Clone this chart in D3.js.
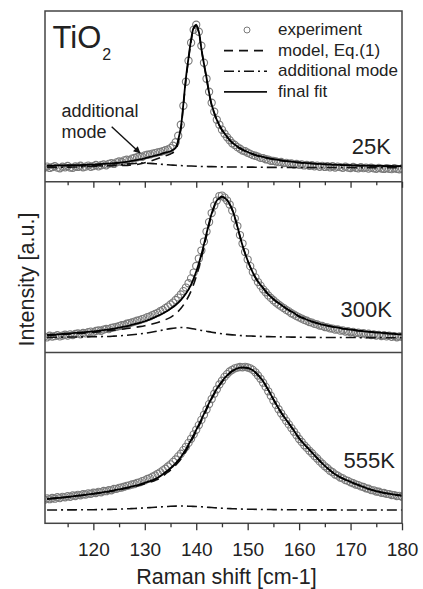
<!DOCTYPE html>
<html>
<head>
<meta charset="utf-8">
<script src="https://cdn.jsdelivr.net/npm/d3@7"></script>
<style>
  html, body { margin: 0; padding: 0; background: #fff; }
  svg { display: block; font-family: "Liberation Sans", Arial, sans-serif; }
</style>
</head>
<body>
<div id="container"></div>
<script>
// Raman shift grids (cm-1)
const ramanExp = d3.range(110.5, 180.01, 0.5);
const ramanCoarse = d3.range(111, 181);
const ramanFine = [111,112,113,114,115,116,117,118,119,120,121,122,123,124,125,126,127,128,129,130,
  131,132,133,134,135,136,136.5,137,137.5,138,138.5,139,139.5,140,140.5,141,141.5,142,142.5,143,143.5,144,
  145,146,147,148,149,150,151,152,153,154,155,156,157,158,159,160,161,162,163,164,165,166,167,168,169,170,
  171,172,173,174,175,176,177,178,179,180];

const majorTicks = [120, 130, 140, 150, 160, 170, 180];
const minorTicks = [115, 125, 135, 145, 155, 165, 175];
const temperatures = ["25K", "300K", "555K"];
const legendItems = ["experiment", "model, Eq.(1)", "additional mode", "final fit"];

// 25K
const exp25 = [14.0,15.2,13.8,14.6,15.5,14.1,13.5,15.0,14.4,15.8,
  14.2,13.9,15.3,14.8,16.0,14.5,15.1,16.2,15.0,15.7,
  16.8,15.4,16.5,17.3,16.4,17.9,18.6,17.8,19.4,20.3,
  19.8,21.4,22.0,21.6,23.2,23.8,24.5,25.1,25.0,26.4,
  27.0,27.3,28.1,28.6,29.4,29.8,30.7,31.5,32.3,33.6,
  36.0,39.5,46,57,76,100,121,139,152,157,
  150,136,119,103,90,79,70,62,57,52,
  48,44.5,41.5,38.5,36.8,34.6,33.0,31.2,30.5,29.0,
  27.9,26.6,26.0,25.1,23.9,23.6,22.5,22.1,21.0,20.8,
  20.3,19.6,19.8,18.7,18.9,18.0,18.3,17.2,17.8,16.9,
  17.4,16.3,16.8,15.9,16.5,15.4,16.1,15.0,15.9,14.8,
  15.6,14.4,15.5,14.2,15.1,14.6,13.9,15.0,14.1,13.7,
  14.8,13.9,13.4,14.5,13.6,14.2,13.1,14.0,13.4,12.9,
  13.8,13.2,12.8,13.6,13.0,12.6,13.5,12.9,12.5,13.3];
const fit25 = [16.1,16.2,16.3,16.4,16.5,16.6,16.7,16.8,17.0,17.2,
  17.5,17.8,18.1,18.5,19.0,19.6,20.4,21.3,22.3,23.5,
  24.8,26.1,27.5,29.1,30.5,
  34,42,54,78,104,124,142,154,157,150,133,118,104,89,77,69,62,
  52,45,39.3,35.3,32.3,29.8,27.8,26.1,24.8,23.6,22.6,21.8,21.0,20.4,19.8,19.3,18.8,18.5,
  18.1,17.8,17.5,17.3,17.0,16.8,16.6,16.5,16.3,16.2,16.1,16.0,15.9,15.8,15.7,15.7,15.6,15.6];
const model25 = [15.9,15.9,16.0,16.0,16.0,16.0,16.0,15.9,15.9,15.9,
  16.0,16.0,16.0,16.0,16.1,16.3,16.6,17.1,17.8,19.0,
  20.5,22.2,24.0,26.0,27.8,
  31.6,39.8,51.9,76,102.2,122.3,140.4,152.5,156,149.5,132.5,117.3,103.4,88.5,76.5,68.5,61.5,
  51.4,44.4,38.5,34.5,31.8,29.3,27.3,25.7,24.4,23.3,22.3,21.5,20.8,20.2,19.6,19.1,18.7,18.4,
  18.0,17.7,17.4,17.2,16.9,16.7,16.5,16.4,16.2,16.1,16.0,15.9,15.8,15.7,15.6,15.6,15.5,15.5];
const add25 = [14.3,14.4,14.4,14.5,14.6,14.7,14.8,15.0,15.2,15.4,
  15.6,15.9,16.2,16.6,17.0,17.4,17.9,18.3,18.6,18.6,
  18.4,18.0,17.6,17.2,16.8,16.5,16.2,15.9,15.7,15.5,
  15.3,15.2,15.1,15.0,14.9,14.8,14.8,14.7,14.7,14.6,
  14.6,14.5,14.5,14.4,14.4,14.4,14.3,14.3,14.3,14.3,
  14.2,14.2,14.2,14.2,14.2,14.2,14.2,14.2,14.2,14.2,
  14.1,14.1,14.1,14.1,14.1,14.1,14.1,14.1,14.1,14.1];

// 300K
const exp300 = [16.0,15.2,16.8,15.9,16.4,17.3,16.1,17.0,17.8,16.9,
  18.2,17.5,18.6,19.1,18.3,19.6,19.2,20.3,20.9,20.4,
  21.6,22.1,21.8,23.0,23.6,23.4,24.7,25.2,25.6,26.5,
  27.3,27.6,28.8,29.3,30.1,30.9,31.8,32.4,33.5,34.2,
  35.4,36.1,37.5,38.6,39.7,41.3,42.6,44.4,46.0,48.1,
  50.0,52.6,55.0,58.1,61.4,65.0,69.3,74.2,80.0,86.6,
  94.0,102,111,121,130.5,139.5,147,152,156.5,157,
  155,152,148,142,134,126.5,117.5,109,100.5,93,
  86.4,80.5,75.2,70.5,66.9,63.2,60.3,57.1,54.6,52.3,
  50.0,48.0,46.1,44.5,42.6,41.2,39.3,38.0,36.4,35.1,
  34.0,32.6,31.8,30.5,29.9,28.7,28.1,27.0,26.6,25.5,
  25.2,24.1,24.0,22.9,23.1,21.9,22.2,21.0,21.4,20.3,
  20.7,19.5,20.0,18.8,19.5,18.2,18.8,17.5,18.2,17.0,
  17.6,16.5,17.3,16.1,16.9,15.6,16.5,15.3,16.2,15.8];
const fit300 = [17.6,17.9,18.2,18.6,19.0,19.4,19.8,20.2,20.6,21.1,
  21.7,22.4,23.2,24.0,24.9,25.9,27.0,28.3,29.7,31.3,
  33.2,35.4,37.8,40.5,43.8,47.5,52.5,59,68,81,
  98,119,139,152,156,152.5,143,126,107,92,
  80,71,64.5,58.2,53.5,49.5,45.8,42.5,39.5,36.2,
  34.0,31.9,30.2,28.7,27.4,26.3,25.4,24.5,23.7,23.0,
  22.3,21.7,21.0,20.6,20.1,19.7,19.3,18.9,18.5,18.2];
const model300 = [17.2,17.4,17.7,18.0,18.3,18.7,19.0,19.3,19.7,20.1,
  20.6,21.2,21.9,22.4,23.0,23.6,24.3,25.1,25.9,26.8,
  27.9,29.3,30.9,32.8,35.2,38.8,44.0,51.5,61.5,76,
  94.5,116.5,137.5,151,155.6,152.2,142.7,125.7,106.7,91.7,
  79.7,70.7,64.2,57.9,53.2,49.2,45.5,42.2,39.3,36.0,
  33.8,31.7,30.0,28.5,27.2,26.1,25.2,24.3,23.5,22.8,
  22.1,21.6,20.9,20.5,20.0,19.6,19.2,18.8,18.4,18.1];
const add300 = [15.2,15.3,15.3,15.4,15.5,15.5,15.6,15.7,15.7,15.8,
  15.9,16.0,16.1,16.4,16.7,17.1,17.5,18.0,18.6,19.3,
  20.1,21.0,22.0,23.0,23.9,24.6,25.0,24.8,24.1,23.1,
  22.1,21.2,20.3,19.5,18.8,18.2,17.7,17.3,16.9,16.6,
  16.4,16.2,16.0,15.9,15.8,15.7,15.6,15.5,15.4,15.3,
  15.3,15.2,15.2,15.1,15.1,15.1,15.0,15.0,15.0,15.0,
  15.0,14.9,14.9,14.9,14.9,14.9,14.8,14.8,14.8,14.8];

// 555K
const exp555 = [23.6,25.0,24.1,25.3,24.6,26.1,25.2,26.4,26.0,27.2,
  26.5,27.8,27.3,28.5,28.0,29.1,28.8,29.9,29.5,30.6,
  30.3,31.4,31.0,32.3,32.1,33.2,33.0,34.3,34.5,35.4,
  35.8,36.6,37.4,37.9,38.8,39.3,40.4,41.0,42.2,42.9,
  44.3,45.2,46.7,47.8,49.5,51.0,52.9,54.6,56.8,58.9,
  61.4,63.8,66.9,69.6,73.2,76.5,80.4,84.5,88.9,93.5,
  98.2,103.4,108.5,113.8,119.2,124.3,129.6,134.0,138.8,142.6,
  146.4,149.2,151.8,153.5,155.0,155.7,156.3,156.0,156.5,155.8,
  155.0,153.4,151.0,147.8,144.5,140.6,136.4,132.0,127.5,122.8,
  118.4,114.1,110.0,106.2,102.4,98.9,95.2,91.6,88.0,84.3,
  81.3,78.0,75.4,72.5,70.1,67.2,64.8,61.9,59.6,57.0,
  55.1,52.6,51.1,48.8,47.7,45.8,44.9,43.2,42.4,41.0,
  40.1,38.8,38.2,36.9,36.3,35.0,34.6,33.2,33.0,31.8,
  31.6,30.5,30.3,29.4,29.2,28.3,28.2,27.3,27.4,26.6];
const fit555 = [24.3,24.8,25.3,25.8,26.4,27.0,27.6,28.2,28.9,29.6,
  30.3,31.1,32.0,33.0,34.0,35.1,36.2,37.4,38.8,40.4,
  42.2,44.3,47.0,51,55,60,66,74,83.5,93.5,
  104,115,125.5,134.5,142,148,152.5,155,156,155.5,
  153,148.5,142,133.5,124,115,107,100,92.5,85,
  79,73.5,68,62.5,57.5,53,49,46,43.5,41.5,
  39.3,37.3,35.3,33.6,32.2,31.0,30.0,29.1,28.3,27.6];
const model555 = [24.3,24.8,25.3,25.8,26.3,26.9,27.5,28.1,28.7,29.4,
  30.1,30.8,31.6,32.6,33.5,34.5,35.6,36.7,38.0,39.4,
  41.0,42.9,45.4,49.3,53.2,58.1,64.0,72.1,81.6,91.8,
  102.4,113.6,124.3,133.5,141.1,147.3,151.9,154.4,155.5,155.1,
  152.7,148.2,141.7,133.2,123.8,114.8,106.8,99.8,92.4,84.9,
  78.9,73.4,67.9,62.4,57.4,52.9,48.9,46.0,43.5,41.5,
  39.3,37.3,35.3,33.6,32.2,31.0,30.0,29.1,28.3,27.6];
const add555 = [13.3,13.3,13.3,13.4,13.4,13.4,13.5,13.5,13.6,13.6,
  13.7,13.8,13.9,14.0,14.2,14.4,14.6,14.8,15.1,15.4,
  15.7,16.0,16.4,16.7,17.0,17.2,17.3,17.2,17.0,16.8,
  16.5,16.1,15.8,15.4,15.1,14.8,14.6,14.4,14.2,14.1,
  14.0,13.9,13.8,13.8,13.7,13.7,13.6,13.6,13.5,13.5,
  13.5,13.4,13.4,13.4,13.4,13.4,13.4,13.3,13.3,13.3,
  13.3,13.3,13.3,13.3,13.3,13.3,13.3,13.3,13.3,13.3];

const panels = [
  {exp: exp25, fitX: ramanFine, fit: fit25, model: model25, add: add25},
  {exp: exp300, fitX: ramanCoarse, fit: fit300, model: model300, add: add300},
  {exp: exp555, fitX: ramanCoarse, fit: fit555, model: model555, add: add555}
];

const width = 423, height = 589;
const plotLeft = 45, plotRight = 402, plotTop = 11, plotBottom = 523.3;
const panelH = (plotBottom - plotTop) / 3;
const ink = "#222";
const ring = "#7a7a7a";
const dashModel = "9,6";
const dashAdd = "10,4,2,4";

const x = d3.scaleLinear().domain([110.6, 180]).range([plotLeft, plotRight]);

const svg = d3.select("#container").append("svg")
  .attr("width", width)
  .attr("height", height);

svg.append("rect").attr("width", width).attr("height", height).attr("fill", "#fff");

const curve = (xs, y) => d3.line()
  .x((d, i) => x(xs[i]))
  .y(d => y(d))
  .curve(d3.curveCatmullRom.alpha(0.5));

panels.forEach((p, k) => {
  const y0 = plotTop + k * panelH, y1 = y0 + panelH;
  const y = d3.scaleLinear().domain([0, panelH]).range([y1, y0]);

  svg.append("clipPath").attr("id", "clip" + k)
    .append("rect")
    .attr("x", plotLeft).attr("y", y0)
    .attr("width", plotRight - plotLeft).attr("height", panelH);

  const g = svg.append("g").attr("clip-path", `url(#clip${k})`);

  g.append("g")
    .selectAll("circle")
    .data(p.exp)
    .join("circle")
    .attr("cx", (d, i) => x(ramanExp[i]))
    .attr("cy", d => y(d))
    .attr("r", 3.6)
    .attr("fill", "none")
    .attr("stroke", ring)
    .attr("stroke-width", 1.1);

  g.append("path")
    .attr("d", curve(ramanCoarse, y)(p.add))
    .attr("fill", "none").attr("stroke", "#111")
    .attr("stroke-width", 1.6).attr("stroke-dasharray", dashAdd);

  g.append("path")
    .attr("d", curve(p.fitX, y)(p.model))
    .attr("fill", "none").attr("stroke", "#111")
    .attr("stroke-width", 1.6).attr("stroke-dasharray", dashModel);

  g.append("path")
    .attr("d", curve(p.fitX, y)(p.fit))
    .attr("fill", "none").attr("stroke", "#000")
    .attr("stroke-width", 1.8);
});

// frame and panel separators
svg.append("rect")
  .attr("x", plotLeft).attr("y", plotTop)
  .attr("width", plotRight - plotLeft).attr("height", plotBottom - plotTop)
  .attr("fill", "none").attr("stroke", "#444").attr("stroke-width", 1.5);

svg.append("g")
  .selectAll("line")
  .data([1, 2])
  .join("line")
  .attr("x1", plotLeft).attr("x2", plotRight)
  .attr("y1", d => plotTop + d * panelH).attr("y2", d => plotTop + d * panelH)
  .attr("stroke", "#444").attr("stroke-width", 1.5);

// x ticks: under the top panel (no labels) and at the bottom
const tickAxis = (yPos, values, size, labels) => {
  const a = svg.append("g")
    .attr("transform", `translate(0,${yPos})`)
    .attr("color", "#333")
    .call(d3.axisBottom(x).tickValues(values).tickSize(size).tickPadding(12)
      .tickFormat(labels ? d3.format("d") : ""));
  a.select(".domain").remove();
  a.selectAll(".tick line").attr("stroke-width", 1.3);
  a.selectAll("text")
    .attr("font-family", "Liberation Sans, Arial, sans-serif")
    .attr("font-size", 19)
    .attr("fill", ink);
  return a;
};
tickAxis(plotTop + panelH, majorTicks, 6, false);
tickAxis(plotTop + panelH, minorTicks, 3.5, false);
tickAxis(plotBottom, majorTicks, 7, true);
tickAxis(plotBottom, minorTicks, 4, false);

// temperature labels
svg.append("g")
  .selectAll("text")
  .data(temperatures)
  .join("text")
  .attr("x", (d, i) => [391, 392, 395][i])
  .attr("y", (d, i) => [154, 316.7, 468.3][i])
  .attr("text-anchor", "end")
  .attr("font-size", 22)
  .attr("fill", ink)
  .text(d => d);

// TiO2
const tio = svg.append("text")
  .attr("x", 52.5).attr("y", 48)
  .attr("font-size", 31).attr("fill", ink);
tio.append("tspan").text("TiO");
tio.append("tspan").attr("font-size", 16).attr("dx", 1).attr("dy", 12).text("2");

// legend
const legend = svg.append("g").attr("font-size", 17).attr("fill", ink);
legendItems.forEach((label, i) => {
  const base = 35 + i * 20.6;
  const cy = base - 5;
  if (i === 0) {
    legend.append("circle").attr("cx", 247).attr("cy", cy).attr("r", 3)
      .attr("fill", "none").attr("stroke", ring).attr("stroke-width", 1);
  } else {
    legend.append("line")
      .attr("x1", 224).attr("x2", 267).attr("y1", cy).attr("y2", cy)
      .attr("stroke", "#111")
      .attr("stroke-width", i === 3 ? 1.8 : 1.6)
      .attr("stroke-dasharray", i === 1 ? dashModel : i === 2 ? dashAdd : null);
  }
  legend.append("text").attr("x", 278).attr("y", base).text(label);
});

// annotation with arrow
svg.append("defs").append("marker")
  .attr("id", "arrow")
  .attr("viewBox", "0 0 10 10")
  .attr("refX", 9).attr("refY", 5)
  .attr("markerWidth", 9).attr("markerHeight", 7)
  .attr("markerUnits", "userSpaceOnUse")
  .attr("orient", "auto")
  .append("path").attr("d", "M0,0L10,5L0,10z").attr("fill", "#111");

const note = svg.append("g").attr("font-size", 18).attr("fill", ink);
note.append("text").attr("x", 61.5).attr("y", 116.7).text("additional");
note.append("text").attr("x", 61.5).attr("y", 138).text("mode");
svg.append("line")
  .attr("x1", 111.7).attr("y1", 126.7).attr("x2", 140).attr("y2", 153)
  .attr("stroke", "#111").attr("stroke-width", 1.4)
  .attr("marker-end", "url(#arrow)");

// axis titles
svg.append("text")
  .attr("x", (plotLeft + plotRight) / 2 + 3).attr("y", 584)
  .attr("text-anchor", "middle")
  .attr("font-size", 21.5).attr("fill", ink)
  .text("Raman shift [cm-1]");

svg.append("text")
  .attr("transform", "translate(34,279.5) rotate(-90)")
  .attr("text-anchor", "middle")
  .attr("font-size", 21.5).attr("fill", ink)
  .text("Intensity [a.u.]");
</script>
</body>
</html>
